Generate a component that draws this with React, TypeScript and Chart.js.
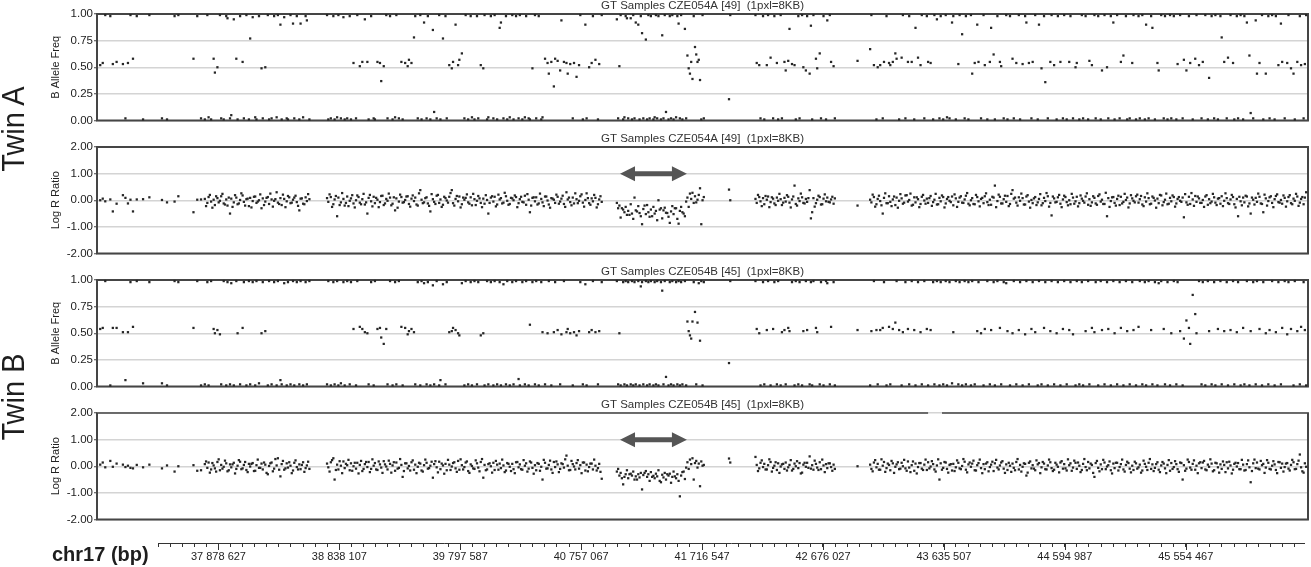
import React, { useEffect, useRef } from "react";
import { Chart, registerables } from "chart.js";

Chart.register(...registerables);

const FONT = '"Liberation Sans", Arial, Helvetica, sans-serif';

// ---------------- DATA ----------------
// SNP positions on chr17 (Mb), shared by both twins
const snpPosMb = [
  36.94,36.96,36.98,37.02,37.04,37.07,37.12,37.14,37.16,37.18,
  37.20,37.23,37.28,37.33,37.43,37.47,37.53,37.56,
  37.68,37.71,37.74,37.77,37.79,37.80,37.82,37.84,37.85,37.87,
  37.89,37.90,37.92,37.94,37.95,37.97,37.98,38.00,38.02,38.03,
  38.05,38.07,38.08,38.10,38.12,38.13,38.15,38.17,38.18,38.20,
  38.22,38.23,38.25,38.27,38.28,38.30,38.32,38.34,38.35,38.37,
  38.38,38.40,38.42,38.43,38.45,38.47,38.48,38.50,38.52,38.53,
  38.55,38.57,38.58,38.60,
  38.74,38.75,38.77,38.79,38.80,38.82,38.83,38.85,38.87,38.88,
  38.90,38.92,38.93,38.95,38.97,38.98,39.00,39.02,39.04,39.06,
  39.07,39.09,39.11,39.12,39.14,39.16,39.17,39.19,39.21,39.22,
  39.24,39.26,39.28,39.29,39.31,39.33,39.34,39.36,39.38,39.39,
  39.41,39.43,39.44,39.46,39.48,39.49,39.51,39.53,39.54,39.56,
  39.58,39.59,39.61,39.63,39.64,39.66,39.68,39.69,39.71,39.73,
  39.74,39.76,39.78,39.79,39.81,39.83,39.84,39.86,39.88,39.89,
  39.91,39.93,39.94,39.96,39.98,39.99,40.01,40.02,40.04,40.06,
  40.07,40.09,40.11,40.12,40.14,40.16,40.17,40.19,40.21,40.22,
  40.24,40.26,40.27,40.29,40.31,40.32,40.34,40.35,40.37,40.39,
  40.40,40.42,40.44,40.45,40.47,40.49,40.50,40.52,40.54,40.55,
  40.57,40.59,40.60,40.62,40.64,40.65,40.67,40.69,40.70,40.72,
  40.74,40.75,40.77,40.79,40.80,40.82,40.84,40.85,40.87,40.89,
  40.90,40.92,
  41.04,41.05,41.06,41.07,41.09,41.10,41.11,41.12,41.13,41.15,
  41.16,41.17,41.18,41.19,41.21,41.22,41.23,41.24,41.25,41.27,
  41.28,41.29,41.30,41.31,41.33,41.34,41.35,41.36,41.37,41.39,
  41.40,41.41,41.42,41.43,41.45,41.46,41.47,41.48,41.49,41.51,
  41.52,41.53,41.54,41.55,41.56,41.58,41.59,41.60,41.61,41.62,
  41.63,41.64,41.65,41.66,41.67,41.68,41.69,41.70,41.71,41.72,
  41.73,
  41.93,41.94,
  42.14,42.15,42.17,42.18,42.20,42.21,42.23,42.24,42.26,42.28,
  42.29,42.31,42.32,42.34,42.35,42.37,42.38,42.40,42.41,42.43,
  42.45,42.46,42.48,42.49,42.51,42.52,42.54,42.55,42.57,42.58,
  42.59,42.60,42.62,42.63,42.65,42.66,42.68,42.70,42.71,42.73,
  42.74,42.76,42.77,
  42.95,
  43.05,43.06,43.08,43.10,43.11,43.13,43.15,43.16,43.18,43.20,
  43.21,43.23,43.25,43.26,43.28,43.30,43.31,43.33,43.35,43.36,
  43.38,43.40,43.41,43.43,43.45,43.46,43.48,43.50,43.51,43.53,
  43.55,43.56,43.58,43.60,43.61,43.63,43.65,43.66,43.68,43.70,
  43.71,43.73,43.75,43.76,43.78,43.80,43.81,43.83,43.85,43.86,
  43.88,43.90,43.91,43.93,43.95,43.96,43.98,44.00,44.01,44.03,
  44.04,44.06,44.08,44.09,44.11,44.13,44.14,44.16,44.18,44.19,
  44.21,44.23,44.24,44.26,44.28,44.29,44.31,44.33,44.34,44.36,
  44.38,44.39,44.41,44.43,44.44,44.46,44.48,44.49,44.51,44.53,
  44.54,44.56,44.58,44.59,44.61,44.63,44.64,44.66,44.68,44.69,
  44.71,44.73,44.74,44.76,44.78,44.79,44.81,44.83,44.84,44.86,
  44.88,44.89,44.91,44.93,44.94,44.96,44.98,44.99,45.01,45.03,
  45.04,45.06,45.08,45.09,45.11,45.13,45.14,45.16,45.18,45.19,
  45.21,45.23,45.24,45.26,45.28,45.29,45.31,45.33,45.34,45.36,
  45.38,45.39,45.41,45.43,45.44,45.46,45.48,45.49,45.51,45.53,
  45.54,45.56,45.58,45.59,45.61,45.63,45.64,45.66,45.68,45.69,
  45.71,45.73,45.74,45.76,45.78,45.79,45.81,45.83,45.84,45.86,
  45.88,45.89,45.91,45.93,45.94,45.96,45.97,45.99,46.01,46.02,
  46.04,46.06,46.07,46.09,46.11,46.12,46.14,46.16,46.17,46.19,
  46.21,46.22,46.24,46.26,46.27,46.29,46.31,46.32,46.34,46.36,
  46.37,46.39,46.41,46.42,46.44,46.46,46.47,46.49,46.50,46.51,
];

// Twin A - B Allele Frequency (per SNP)
const bafTwinA = [
  .52,.54,.99,.98,.53,.55,.53,.02,.54,.99,
  .58,.98,.01,.99,.02,.01,.98,.99,
  .58,.98,.02,.01,.99,.03,.01,.58,.45,.50,
  .99,.02,.01,.98,.96,.02,.05,.95,.58,.01,
  .98,.55,.02,.99,.01,.77,.97,.03,.01,.98,
  .49,.02,.50,.99,.01,.02,.98,.03,.99,.90,
  .01,.97,.02,.01,.99,.91,.02,.98,.01,.91,
  .03,.98,.94,.01,
  .99,.01,.02,.98,.01,.03,.99,.02,.97,.01,
  .02,.98,.01,.54,.02,.99,.51,.55,.95,.55,
  .01,.98,.02,.01,.55,.54,.37,.51,.99,.02,
  .98,.01,.03,.99,.02,.55,.01,.54,.51,.57,
  .54,.78,.98,.02,.99,.01,.92,.02,.98,.01,
  .85,.08,.02,.99,.01,.77,.98,.02,.52,.49,
  .55,.90,.52,.57,.63,.02,.99,.01,.98,.03,
  .01,.98,.02,.52,.49,.99,.01,.03,.98,.02,
  .99,.01,.87,.92,.02,.98,.01,.03,.99,.01,
  .98,.02,.99,.01,.03,.98,.02,.01,.49,.99,
  .02,.98,.01,.03,.58,.54,.44,.55,.32,.58,
  .56,.47,.94,.55,.54,.44,.53,.02,.54,.41,
  .52,.99,.01,.90,.02,.50,.54,.98,.57,.01,
  .53,.99,
  .95,.02,.51,.99,.01,.03,.98,.96,.02,.96,
  .01,.99,.02,.92,.90,.01,.98,.82,.02,.76,
  .01,.99,.02,.98,.01,.03,.99,.02,.98,.01,
  .80,.02,.99,.08,.01,.98,.02,.99,.01,.03,
  .98,.91,.02,.99,.01,.86,.02,.61,.49,.44,
  .55,.39,.98,.69,.62,.55,.57,.38,.01,.99,
  .02,
  .20,.99,
  .99,.54,.52,.02,.98,.01,.52,.99,.59,.02,
  .98,.54,.01,.99,.02,.55,.47,.56,.86,.53,
  .52,.01,.98,.02,.99,.50,.47,.98,.44,.89,
  .01,.99,.58,.49,.63,.02,.98,.01,.94,.99,
  .55,.51,.02,
  .56,
  .67,.99,.52,.01,.50,.52,.02,.55,.98,.54,
  .52,.55,.63,.58,.01,.59,.99,.02,.55,.98,
  .55,.01,.87,.59,.52,.99,.02,.98,.55,.54,
  .01,.99,.95,.02,.98,.01,.99,.03,.02,.92,
  .98,.01,.53,.99,.81,.02,.98,.01,.99,.44,
  .54,.90,.55,.02,.99,.52,.01,.55,.87,.62,
  .01,.98,.55,.51,.02,.99,.01,.98,.58,.02,
  .54,.99,.01,.53,.98,.92,.54,.02,.55,.99,
  .01,.90,.49,.98,.36,.02,.55,.99,.52,.01,
  .98,.55,.02,.99,.01,.55,.98,.02,.50,.54,
  .01,.99,.02,.98,.01,.56,.52,.99,.02,.98,
  .01,.47,.99,.50,.02,.98,.92,.01,.99,.02,
  .55,.61,.98,.01,.02,.54,.99,.01,.98,.02,
  .99,.01,.90,.02,.98,.87,.01,.54,.47,.99,
  .02,.98,.01,.99,.02,.98,.01,.53,.99,.02,
  .57,.47,.98,.54,.01,.58,.99,.52,.02,.55,
  .99,.01,.40,.98,.02,.99,.01,.98,.78,.55,
  .02,.59,.99,.54,.01,.98,.02,.99,.01,.98,
  .92,.61,.07,.02,.94,.44,.54,.99,.01,.44,
  .98,.02,.99,.01,.98,.52,.91,.55,.02,.54,
  .99,.49,.44,.01,.55,.98,.52,.02,.53,.99,
];

// Twin A - Log R Ratio (per SNP)
const lrrTwinA = [
  0,.06,-.04,.03,-.42,-.13,.19,.09,-.12,.02,
  -.42,.03,.04,.11,.01,-.08,-.05,.15,
  -.45,.02,.03,.05,-.10,.12,-.05,.02,-.18,.08,
  -.02,.15,-.12,.03,-.20,-.50,.06,-.08,.10,-.15,
  .01,.18,-.06,.04,-.22,.09,-.03,.14,-.10,0,
  -.30,.07,-.05,.12,-.14,.03,-.02,.30,-.09,.08,
  -.18,.05,-.04,.16,-.11,.02,.10,-.07,-.38,.06,
  -.13,.11,-.03,.04,
  .08,-.06,.12,-.15,.03,-.60,.10,-.08,.05,-.20,
  .14,-.02,.07,-.12,0,.18,-.09,.04,-.16,-.50,
  .09,-.04,.13,-.11,.02,-.07,.16,-.18,.05,-.02,
  .10,-.13,-.38,.07,-.05,.12,-.09,.01,.15,-.14,
  .06,-.03,.10,-.20,.38,.02,-.08,.11,-.12,-.42,
  .04,-.06,.17,-.10,.03,-.17,.08,-.01,.13,.38,
  -.11,.05,-.04,.14,-.15,.02,.09,-.08,.11,-.19,
  .04,-.02,.16,-.10,.06,-.13,.01,-.50,.10,-.05,
  .13,-.16,.03,.08,-.09,.15,-.02,-.14,.07,0,
  .12,-.11,.04,-.06,.17,-.17,.02,-.45,.09,-.04,
  .11,-.12,.05,-.08,.14,-.01,-.16,.08,.02,-.10,
  .13,-.05,.06,-.14,.30,.03,-.07,.10,-.12,.04,
  -.02,.15,-.09,.01,.26,-.11,.07,-.04,.09,-.15,
  .03,-.06,
  -.10,-.30,-.20,-.65,-.35,-.45,-.25,-.55,-.40,-.15,
  -.50,-.70,.10,-.38,-.22,-.48,-.60,-.90,-.33,-.52,
  -.18,-.45,-.62,-.35,-.25,-.50,-.40,-.75,0,-.30,
  -.68,-.38,-.28,-.47,-.62,-.85,-.42,-.22,-.52,-.30,
  -.70,-.88,-.40,-.25,-.45,-.60,-.05,.10,-.25,.25,
  .05,.28,-.10,.15,-.08,.02,.20,.45,-.90,0,
  .12,
  .40,0,
  .05,-.10,.12,-.04,.08,-.15,.02,.14,-.07,.06,
  -.12,.10,-.02,.04,-.18,.09,-.05,.13,-.09,.03,
  .55,-.14,.07,-.03,.11,-.10,.05,-.06,.38,-.68,
  -.45,.08,-.11,.02,.12,-.16,.06,-.04,.10,-.08,
  .03,-.13,.07,
  -.20,
  .02,-.08,.12,-.15,.05,-.03,-.50,.09,-.11,.15,
  -.06,.03,-.18,.10,-.02,.07,-.13,.18,-.05,.01,
  -.20,.11,-.08,.04,-.14,.13,-.01,.06,-.10,.16,
  -.07,.02,-.16,.09,-.04,.12,-.12,.05,-.02,.14,
  -.19,.07,-.06,.10,-.09,.03,.17,-.13,0,.08,
  -.15,.12,-.04,.05,-.11,.15,-.07,.02,-.17,.10,
  .55,-.03,.13,-.12,.04,-.06,.16,-.14,.38,.06,
  -.09,.11,-.02,.08,-.16,.14,-.05,.01,-.11,.12,
  -.08,.05,-.19,.09,-.03,.15,-.10,-.57,.07,-.06,
  .11,-.13,.03,.17,-.07,0,-.15,.10,-.04,.13,
  -.11,.06,-.02,.14,-.17,.04,-.08,.09,-.12,.16,
  -.05,.02,-.14,-.60,.08,-.03,.12,-.10,.05,-.18,
  .13,-.06,.01,.10,-.12,.07,-.02,.15,-.09,.04,
  -.16,.11,-.05,.08,-.13,.14,-.01,.06,-.11,.18,
  -.07,.02,-.15,.09,-.04,.12,-.12,.05,-.02,.10,
  -.64,-.08,.13,-.14,.03,.16,-.06,.07,-.10,.01,
  .14,-.17,.04,-.05,.11,-.09,.06,-.13,.15,-.02,
  .08,-.11,.03,.12,-.15,.05,-.60,-.04,.10,-.08,
  .14,-.12,-.50,.02,.09,-.06,.13,-.14,-.45,.07,
  -.03,.11,-.10,.04,.16,-.07,.01,-.13,.09,-.04,
  .12,-.11,.06,-.02,.14,-.09,.05,-.15,.10,.30,
];

// Twin B - B Allele Frequency (per SNP)
const bafTwinB = [
  .54,.55,.99,.01,.55,.55,.51,.06,.51,.98,
  .56,.99,.03,.98,.03,.01,.99,.98,
  .55,.99,.01,.02,.98,.01,.99,.54,.50,.53,
  .49,.02,.99,.01,.98,.02,.97,.01,.99,.50,
  .02,.55,.98,.01,.99,.02,.98,.01,.99,.03,
  .50,.98,.52,.01,.99,.02,.98,.01,.99,.06,
  .02,.97,.01,.98,.02,.99,.01,.98,.02,.99,
  .01,.98,.02,.99,
  .02,.99,.01,.98,.02,.99,.01,.03,.98,.01,
  .99,.02,.98,.54,.01,.99,.56,.54,.51,.50,
  .02,.98,.01,.99,.54,.55,.46,.40,.54,.02,
  .99,.01,.98,.02,.99,.56,.01,.55,.49,.52,
  .54,.51,.02,.98,.01,.99,.97,.02,.98,.01,
  .95,.02,.99,.01,.06,.96,.02,.98,.51,.52,
  .55,.53,.50,.48,.97,.01,.99,.02,.98,.01,
  .99,.02,.98,.48,.50,.01,.99,.02,.98,.01,
  .99,.02,.98,.01,.96,.02,.99,.01,.98,.02,
  .99,.07,.01,.98,.02,.99,.01,.58,.98,.02,
  .99,.01,.98,.51,.02,.50,.99,.01,.51,.98,
  .53,.02,.49,.99,.51,.54,.50,.01,.51,.48,
  .52,.98,.02,.96,.01,.51,.53,.99,.51,.02,
  .52,.98,
  .99,.02,.50,.01,.98,.02,.99,.01,.98,.02,
  .99,.01,.98,.02,.99,.01,.94,.98,.02,.99,
  .01,.98,.02,.99,.01,.98,.02,.99,.01,.98,
  .90,.02,.99,.09,.01,.98,.02,.99,.01,.98,
  .02,.99,.01,.98,.02,.99,.01,.61,.52,.48,
  .45,.61,.98,.70,.02,.60,.97,.43,.99,.01,
  .98,
  .22,.99,
  .99,.54,.50,.01,.98,.02,.53,.99,.01,.54,
  .98,.02,.99,.01,.51,.53,.02,.55,.52,.98,
  .01,.99,.02,.98,.01,.52,.99,.53,.02,.98,
  .01,.99,.55,.51,.02,.98,.01,.99,.97,.02,
  .56,.98,.01,
  .53,
  .01,.52,.99,.53,.02,.53,.55,.98,.01,.56,
  .02,.54,.60,.99,.53,.01,.51,.98,.54,.02,
  .99,.53,.01,.98,.51,.02,.99,.54,.01,.53,
  .98,.02,.99,.01,.98,.02,.99,.01,.98,.03,
  .51,.99,.02,.98,.01,.99,.02,.98,.01,.99,
  .02,.52,.98,.50,.01,.54,.99,.02,.53,.98,
  .01,.99,.55,.02,.98,.97,.52,.01,.50,.99,
  .02,.53,.98,.01,.49,.99,.02,.54,.98,.51,
  .01,.99,.02,.55,.98,.01,.52,.99,.02,.50,
  .98,.01,.54,.99,.02,.53,.98,.49,.01,.99,
  .02,.98,.01,.52,.99,.02,.55,.51,.98,.01,
  .99,.53,.02,.98,.54,.01,.99,.50,.02,.98,
  .55,.01,.99,.52,.02,.98,.53,.01,.56,.99,
  .02,.98,.01,.99,.53,.02,.98,.01,.97,.99,
  .54,.02,.98,.01,.50,.99,.02,.98,.52,.01,
  .45,.62,.55,.40,.86,.68,.50,.99,.02,.98,
  .01,.99,.52,.02,.98,.01,.54,.99,.02,.52,
  .98,.01,.53,.99,.02,.51,.98,.01,.55,.02,
  .99,.01,.52,.98,.02,.99,.54,.01,.98,.50,
  .02,.53,.99,.01,.51,.98,.02,.55,.99,.49,
  .98,.54,.01,.99,.52,.02,.56,.98,.53,.01,
];

// Twin B - Log R Ratio (per SNP)
const lrrTwinB = [
  .06,.14,-.04,.20,-.02,.10,.06,-.03,.02,-.06,
  -.08,.05,-.04,.06,-.08,.03,-.20,0,
  .04,-.17,-.15,.08,-.06,.14,-.12,.03,-.08,.16,
  -.15,.05,-.02,.11,-.19,.07,-.04,.13,-.10,.02,
  .17,-.08,.05,-.14,.09,-.01,.12,-.17,.04,-.06,
  .10,-.12,.06,-.30,.01,.14,-.09,.03,.30,-.38,
  .08,-.13,.11,-.05,.02,-.16,.13,-.03,.07,-.11,
  .15,-.07,.03,-.10,
  .10,-.04,.15,.30,-.50,.06,-.12,.02,.18,-.07,
  .04,-.15,.11,0,-.09,.13,.05,-.18,.08,-.03,
  .16,-.10,.02,.12,-.14,.07,-.05,.19,-.01,-.12,
  .09,.03,-.17,.14,-.06,.05,-.40,.11,-.08,.01,
  .15,-.13,.06,-.02,.10,-.16,.04,.13,-.09,.02,
  -.43,.08,-.04,.17,-.11,.03,.09,-.15,.06,-.01,
  .12,-.08,.20,-.13,.04,-.03,.14,-.18,.07,.01,
  -.10,.11,-.05,.16,-.43,.05,-.12,.08,0,.13,
  -.14,.06,.10,-.07,.03,-.16,.12,-.02,.09,-.11,
  .15,-.04,.07,-.13,.02,.11,-.09,.18,-.06,.04,
  -.15,.09,-.02,-.50,.13,-.08,.05,-.12,.16,-.03,
  .07,-.10,.11,-.05,.40,.02,-.14,.08,-.01,.12,
  -.09,.04,.14,-.16,.06,-.03,.10,-.12,.02,-.07,
  .09,-.47,
  -.20,-.10,-.35,-.25,-.68,-.40,-.30,-.15,-.45,-.28,
  -.35,-.20,-.50,-.38,-.30,-.42,-.25,-.87,-.33,-.18,
  -.40,-.30,-.55,-.22,-.36,-.45,-.28,-.38,-.15,-.60,
  -.32,-.42,-.25,-.50,-.35,-.28,-.62,-.40,-.20,-.45,
  -.30,-.55,-1.13,-.35,-.22,-.48,-.05,.15,-.10,.25,
  .08,.30,-.50,.12,.20,-.05,.10,-.75,.18,.02,
  .05,
  .29,.14,
  .35,.05,-.08,.13,-.03,.09,-.12,.04,.16,-.06,
  .02,-.14,.11,-.01,.07,-.10,.14,-.04,.05,-.16,
  .10,0,-.07,.12,-.24,.06,-.02,.13,.37,-.09,
  .04,-.13,.09,-.05,.15,-.11,.03,.08,-.07,.11,
  -.03,.06,-.10,
  0,
  .06,-.10,.14,-.04,.09,-.13,.02,.16,-.07,.05,
  -.15,.11,-.02,.07,-.11,.13,0,-.08,.18,-.05,
  .04,-.17,.10,-.03,.12,-.09,.06,-.14,.15,-.01,
  .08,-.12,.03,-.50,.11,-.06,.14,-.10,.05,-.16,
  .09,-.04,.13,-.08,.01,.17,-.13,.07,-.02,.10,
  -.15,.04,.12,-.07,.08,-.11,.15,-.03,.06,-.18,
  .11,-.05,.03,.14,-.09,.07,-.14,.02,.10,-.06,
  .16,-.12,.05,-.02,.09,-.35,.13,-.08,.04,-.15,
  .07,.12,-.04,.10,-.11,.03,.15,-.07,-.13,.06,
  -.02,.14,-.09,.08,-.16,.04,.11,-.05,.13,-.10,
  .02,-.14,.09,-.03,.16,-.08,.05,-.40,.12,-.06,
  .07,-.11,.14,-.01,.04,-.15,.10,-.07,.13,-.03,
  .08,-.12,.05,.17,-.09,.02,-.14,.11,-.04,.06,
  -.16,.09,-.02,.13,-.10,.07,-.06,.15,-.13,.03,
  .10,-.08,.05,-.17,.12,-.03,.08,-.11,.14,-.50,
  .04,-.09,.16,-.05,.09,-.13,.02,.11,-.07,.14,
  -.12,.06,-.02,.10,-.15,.13,-.04,.07,-.10,.05,
  .15,-.08,.03,-.13,.09,-.01,.12,-.11,.06,-.16,
  .08,-.04,-.60,.11,-.07,.14,-.12,.04,.09,-.05,
  .13,-.10,.02,.07,-.14,.16,-.06,.10,-.03,.12,
  -.09,.05,.15,-.11,.08,.44,-.04,-.24,.11,-.02,
];

// Copy-number-only probes (Mb): Log R Ratio only
const cnvPosMb = [
  37.78,37.81,37.83,37.86,37.88,37.91,37.93,37.96,37.99,38.01,
  38.04,38.06,38.09,38.11,38.14,38.16,38.19,38.21,38.24,38.26,
  38.29,38.31,38.33,38.36,38.39,38.41,38.44,38.46,38.49,38.51,
  38.54,38.56,38.59,
  38.76,38.78,38.81,38.84,38.86,38.89,
  38.91,38.94,38.96,38.99,39.01,39.03,39.05,
  39.08,39.10,39.13,39.15,39.18,39.20,
  39.23,39.25,39.27,39.30,39.32,39.35,39.37,
  39.40,39.42,39.45,39.47,39.50,39.52,39.55,39.57,
  39.60,39.62,39.65,39.67,39.70,39.72,
  39.75,39.77,39.80,39.82,39.85,39.87,
  39.90,39.92,39.95,39.97,40.00,40.03,40.05,
  40.08,40.10,40.13,40.15,40.18,40.20,
  40.23,40.25,40.28,40.30,40.33,40.36,40.38,
  40.41,40.43,40.46,40.48,40.51,40.53,
  40.56,40.58,40.61,40.63,40.66,40.68,40.71,
  40.73,40.76,40.78,40.81,40.83,40.86,40.88,
  40.91,
  41.08,41.14,41.20,41.26,41.32,41.38,41.44,41.50,41.57,
  42.16,42.19,42.22,42.25,42.27,42.30,42.33,42.36,42.39,42.42,
  42.44,42.47,42.50,42.53,42.56,42.61,42.64,42.67,42.69,42.72,
  42.75,
  43.07,43.09,43.12,43.14,43.17,43.19,
  43.22,43.24,43.27,43.29,43.32,43.34,
  43.37,43.39,43.42,43.44,43.47,43.49,43.52,
  43.54,43.57,43.59,43.62,43.64,43.67,43.69,
  43.72,43.74,43.77,43.79,43.82,43.84,
  43.87,43.89,43.92,43.94,43.97,43.99,44.02,
  44.05,44.07,44.10,44.12,44.15,44.17,
  44.20,44.22,44.25,44.27,44.30,44.32,44.35,
  44.37,44.40,44.42,44.45,44.47,44.50,44.52,
  44.55,44.57,44.60,44.62,44.65,44.67,
  44.70,44.72,44.75,44.77,44.80,44.82,44.85,
  44.87,44.90,44.92,44.95,44.97,45.00,45.02,
  45.05,45.07,45.10,45.12,45.15,45.17,
  45.20,45.22,45.25,45.27,45.30,45.32,45.35,
  45.37,45.40,45.42,45.45,45.47,45.50,45.52,
  45.55,45.57,45.60,45.62,45.65,45.67,
  45.70,45.72,45.75,45.77,45.80,45.82,45.85,
  45.87,45.90,45.92,45.95,45.98,46.00,
  46.03,46.05,46.08,46.10,46.13,46.15,46.18,
  46.20,46.23,46.25,46.28,46.30,46.33,46.35,
  46.38,46.40,46.43,46.45,46.48,
];

const cnvLrrTwinA = [
  -.22,.20,-.28,.15,-.08,.24,-.16,.10,-.25,.19,
  -.12,.26,-.20,.06,-.27,.13,-.05,.22,-.18,.09,
  .25,-.24,.04,-.14,.21,-.26,.11,-.09,.17,-.21,
  .07,-.15,.23,
  .22,-.25,.16,-.18,.27,-.10,
  -.22,.19,-.27,.12,-.15,.24,-.08,
  .20,-.23,.09,-.26,.17,-.12,
  .25,-.19,.11,-.28,.21,-.07,.14,
  -.24,.18,-.16,.26,-.11,.08,-.21,.23,
  -.14,.20,-.25,.13,-.09,.27,
  -.20,.16,-.27,.10,.22,-.13,
  .24,-.18,.07,-.26,.19,-.10,.15,
  -.23,.21,-.12,.28,-.17,.09,
  .18,-.26,.13,-.08,.23,-.20,.11,
  -.16,.25,-.22,.14,-.28,.06,
  .21,-.13,.17,-.25,.10,-.19,.26,
  -.11,.22,-.24,.08,-.17,.20,-.27,
  .15,
  -.30,-.55,-.42,-.20,-.60,-.35,-.48,-.30,-.50,
  .20,-.22,.16,-.26,.11,-.18,.24,-.09,.19,-.27,
  .14,-.20,.25,-.12,.08,-.24,.17,-.15,.22,-.06,
  .13,
  .21,-.24,.17,-.19,.26,-.11,
  -.22,.14,-.28,.23,-.09,.19,
  .25,-.17,.11,-.26,.20,-.13,.08,
  -.21,.24,-.15,.18,-.27,.12,-.07,
  .22,-.25,.15,-.10,.27,-.19,
  -.14,.20,-.23,.09,.26,-.18,.13,
  -.26,.21,-.12,.17,-.22,.24,
  .10,-.20,.25,-.16,.19,-.28,.07,
  -.18,.23,-.11,.27,-.24,.14,-.08,
  .20,-.26,.12,-.19,.24,-.13,
  -.23,.18,-.09,.26,-.21,.15,-.17,
  .22,-.14,.28,-.25,.11,-.20,.17,
  -.12,.24,-.27,.19,-.08,.21,
  .16,-.22,.26,-.15,.09,-.28,.20,
  -.19,.25,-.13,.18,-.24,.12,-.06,
  .23,-.17,.27,-.21,.14,-.10,
  -.25,.19,-.11,.24,-.18,.08,-.22,
  .26,-.14,.20,-.27,.13,-.19,
  .17,-.23,.10,-.16,.25,-.12,.21,
  -.20,.15,-.26,.22,-.09,.18,-.24,
  .19,-.15,.24,-.21,.12,
];

const cnvLrrTwinB = [
  .18,-.24,.12,-.20,.26,-.09,.21,-.15,.07,-.27,
  .23,-.11,.16,-.22,.09,-.18,.25,-.06,.14,-.25,
  .11,-.19,.27,-.13,.20,-.08,.15,-.26,.22,-.12,
  .05,-.21,.17,
  -.20,.23,-.14,.19,-.26,.09,
  .24,-.17,.13,-.27,.20,-.10,.16,
  -.22,.26,-.12,.18,-.25,.07,
  .21,-.24,.15,-.09,.27,-.18,.11,
  -.16,.22,-.26,.13,-.20,.25,-.07,.17,
  .19,-.23,.10,-.28,.24,-.14,
  .15,-.21,.26,-.12,.18,-.25,
  -.08,.22,-.19,.27,-.15,.11,-.24,
  .20,-.13,.25,-.22,.09,-.18,
  -.26,.16,-.11,.23,-.20,.14,-.28,
  .12,-.17,.24,-.09,.21,-.25,
  .18,-.22,.08,.26,-.15,.20,-.12,
  .23,-.26,.14,-.19,.10,.25,-.16,
  -.21,
  -.45,-.30,-.50,-.25,-.40,-.55,-.30,-.38,-.20,
  -.18,.22,-.12,.26,-.20,.15,-.25,.09,-.16,.23,
  -.10,.19,-.27,.13,-.06,.21,-.14,.25,-.22,.11,
  -.17,
  -.19,.23,-.13,.26,-.21,.10,
  .20,-.25,.15,-.09,.24,-.17,
  -.22,.18,-.27,.12,-.14,.25,-.08,
  .19,-.20,.26,-.13,.16,-.24,.08,
  -.18,.22,-.11,.27,-.23,.14,
  .21,-.16,.25,-.26,.10,-.19,.17,
  .24,-.12,.19,-.25,.13,-.21,
  -.15,.27,-.20,.11,-.24,.18,-.09,
  .22,-.26,.16,-.12,.25,-.18,.13,
  -.23,.19,-.08,.26,-.17,.21,
  .14,-.22,.27,-.15,.10,-.25,.20,
  -.19,.24,-.11,.18,-.27,.13,-.16,
  .25,-.20,.12,-.23,.17,-.09,
  -.24,.21,-.14,.27,-.18,.08,-.22,
  .16,-.26,.23,-.10,.19,-.21,.12,
  -.17,.25,-.13,.22,-.26,.15,
  .20,-.15,.26,-.19,.11,-.24,.18,
  -.22,.17,-.27,.13,-.11,.24,
  -.14,.22,-.18,.25,-.09,.20,-.25,
  .23,-.12,.19,-.26,.15,-.20,.10,
  -.16,.24,-.10,.21,-.19,
];

// Axis ticks (genomic position, Mb) and their labels (bp)
const xMajorValuesMb = [37.878627, 38.838107, 39.797587, 40.757067, 41.716547, 42.676027, 43.635507, 44.594987, 45.554467];
const xMajorLabels = ["37 878 627", "38 838 107", "39 797 587", "40 757 067", "41 716 547", "42 676 027", "43 635 507", "44 594 987", "45 554 467"];
const bafTicks = [0, 0.25, 0.5, 0.75, 1];
const lrrTicks = [-2, -1, 0, 1, 2];

const panelTitles = [
  "GT Samples CZE054A [49]  (1pxl=8KB)",
  "GT Samples CZE054A [49]  (1pxl=8KB)",
  "GT Samples CZE054B [45]  (1pxl=8KB)",
  "GT Samples CZE054B [45]  (1pxl=8KB)",
];
const yTitles = { baf: "B Allele Freq", lrr: "Log R Ratio" };
const deletionArrowMb = [41.065, 41.596];
const deletionArrowLevel = 1.0;

// view window (Mb)
const X_MIN = 36.9144;
const X_MAX = 46.5249;
const AXIS_MIN = 37.398887;
const AXIS_MAX = 46.4931;

// ---------------- COMPONENTS ----------------
type PanelProps = {
  top: number;
  values: number[];
  extra?: number[];
  kind: "baf" | "lrr";
  title: string;
  arrow?: boolean;
  topGap?: number[];
};

function Panel({ top, values, extra, kind, title, arrow, topGap }: PanelProps) {
  const ref = useRef<HTMLCanvasElement>(null);
  useEffect(() => {
    const pts: { x: number; y: number }[] = [];
    const n = Math.min(snpPosMb.length, values.length);
    for (let i = 0; i < n; i++) pts.push({ x: snpPosMb[i], y: values[i] });
    if (extra) {
      const m = Math.min(cnvPosMb.length, extra.length);
      for (let i = 0; i < m; i++) pts.push({ x: cnvPosMb[i], y: extra[i] });
    }
    const isBaf = kind === "baf";
    const tickVals = isBaf ? bafTicks : lrrTicks;

    const decor = {
      id: "decor",
      beforeDatasetsDraw(chart: any) {
        const { ctx, chartArea: a, scales } = chart;
        ctx.save();
        ctx.strokeStyle = "#454545";
        ctx.lineWidth = 2;
        ctx.beginPath();
        ctx.moveTo(a.left, a.top);
        ctx.lineTo(a.left, a.bottom);
        ctx.lineTo(a.right, a.bottom);
        ctx.lineTo(a.right, a.top);
        ctx.stroke();
        ctx.beginPath();
        if (topGap) {
          const g0 = scales.x.getPixelForValue(topGap[0]);
          const g1 = scales.x.getPixelForValue(topGap[1]);
          ctx.lineWidth = 1.5;
          ctx.moveTo(a.left - 1, a.top);
          ctx.lineTo(g0, a.top);
          ctx.moveTo(g1, a.top);
          ctx.lineTo(a.right + 1, a.top);
        } else {
          ctx.moveTo(a.left - 1, a.top);
          ctx.lineTo(a.right + 1, a.top);
        }
        ctx.stroke();
        ctx.restore();
      },
      afterDatasetsDraw(chart: any) {
        if (!arrow) return;
        const { ctx, scales } = chart;
        const x0 = scales.x.getPixelForValue(deletionArrowMb[0]);
        const x1 = scales.x.getPixelForValue(deletionArrowMb[1]);
        const y = scales.y.getPixelForValue(deletionArrowLevel);
        const head = 15, hh = 7.5, sh = 2.5;
        ctx.save();
        ctx.fillStyle = "#555555";
        ctx.beginPath();
        ctx.moveTo(x0, y);
        ctx.lineTo(x0 + head, y - hh);
        ctx.lineTo(x0 + head, y - sh);
        ctx.lineTo(x1 - head, y - sh);
        ctx.lineTo(x1 - head, y - hh);
        ctx.lineTo(x1, y);
        ctx.lineTo(x1 - head, y + hh);
        ctx.lineTo(x1 - head, y + sh);
        ctx.lineTo(x0 + head, y + sh);
        ctx.lineTo(x0 + head, y + hh);
        ctx.closePath();
        ctx.fill();
        ctx.restore();
      },
      afterDraw(chart: any) {
        const { ctx, chartArea: a } = chart;
        ctx.save();
        ctx.font = `11.5px ${FONT}`;
        ctx.fillStyle = "#333333";
        ctx.textAlign = "center";
        ctx.textBaseline = "middle";
        ctx.fillText(title, (a.left + a.right) / 2, a.top - 8);
        ctx.restore();
      },
    };

    const chart = new Chart(ref.current as HTMLCanvasElement, {
      type: "scatter",
      data: {
        datasets: [
          {
            data: pts,
            pointStyle: "rect",
            pointRadius: 1.6,
            pointHoverRadius: 1.6,
            backgroundColor: "#262626",
            borderWidth: 0,
            clip: false,
          } as any,
        ],
      },
      options: {
        responsive: false,
        animation: false,
        events: [],
        layout: { padding: { top: 14, bottom: 12.5, left: 0, right: 3 } },
        plugins: { legend: { display: false }, tooltip: { enabled: false }, title: { display: false } },
        scales: {
          x: { type: "linear", display: false, min: X_MIN, max: X_MAX },
          y: {
            type: "linear",
            min: isBaf ? 0 : -2,
            max: isBaf ? 1 : 2,
            afterFit: (s: any) => {
              s.width = 97;
            },
            afterBuildTicks: (s: any) => {
              s.ticks = tickVals.map((v) => ({ value: v }));
            },
            ticks: {
              callback: (v: any) => Number(v).toFixed(2),
              color: "#222222",
              font: { family: FONT, size: 11.5 },
              padding: 1,
            },
            grid: { color: "#d4d4d4", lineWidth: 1.5, drawTicks: true, tickLength: 3, tickColor: "#444444", tickWidth: 1 },
            border: { display: false },
            title: {
              display: true,
              text: isBaf ? yTitles.baf : yTitles.lrr,
              color: "#222222",
              font: { family: FONT, size: 11 },
              padding: { top: 49, bottom: 0 },
            },
          } as any,
        },
      },
      plugins: [decor],
    });
    return () => chart.destroy();
  }, []);
  return (
    <canvas
      ref={ref}
      width={1311}
      height={133}
      style={{ position: "absolute", left: 0, top, width: 1311, height: 133, display: "block" }}
    />
  );
}

function BottomAxis() {
  const ref = useRef<HTMLCanvasElement>(null);
  useEffect(() => {
    const step = (xMajorValuesMb[1] - xMajorValuesMb[0]) / 10;
    const minorTicks: number[] = [];
    for (let k = -5; k <= 89; k++) minorTicks.push(xMajorValuesMb[0] + k * step);
    const labelFor = (v: number) => {
      for (let i = 0; i < xMajorValuesMb.length; i++) {
        if (Math.abs(v - xMajorValuesMb[i]) < 1e-6) return xMajorLabels[i];
      }
      return "";
    };
    const majorMarks = {
      id: "majorMarks",
      afterDraw(chart: any) {
        const { ctx, scales } = chart;
        const s = scales.x;
        ctx.save();
        ctx.strokeStyle = "#333333";
        ctx.lineWidth = 1;
        for (const v of xMajorValuesMb) {
          const px = Math.round(s.getPixelForValue(v)) + 0.5;
          ctx.beginPath();
          ctx.moveTo(px, s.top);
          ctx.lineTo(px, s.top + 7);
          ctx.stroke();
        }
        ctx.restore();
      },
    };
    const chart = new Chart(ref.current as HTMLCanvasElement, {
      type: "scatter",
      data: { datasets: [{ data: [] }] },
      options: {
        responsive: false,
        animation: false,
        events: [],
        layout: { padding: { left: 158, right: 7, top: 0, bottom: 0 } },
        plugins: { legend: { display: false }, tooltip: { enabled: false } },
        scales: {
          y: { display: false, min: 0, max: 1 },
          x: {
            type: "linear",
            position: "bottom",
            min: AXIS_MIN,
            max: AXIS_MAX,
            afterBuildTicks: (s: any) => {
              s.ticks = minorTicks.map((v) => ({ value: v }));
            },
            afterFit: (s: any) => {
              s.height = 24;
            },
            ticks: {
              autoSkip: false,
              maxRotation: 0,
              minRotation: 0,
              padding: 3,
              color: "#222222",
              font: { family: FONT, size: 11 },
              callback: (v: any) => labelFor(Number(v)),
            },
            grid: { drawOnChartArea: false, drawTicks: true, tickLength: 4, tickColor: "#333333", tickWidth: 1 },
            border: { display: true, color: "#333333", width: 1 },
          } as any,
        },
      },
      plugins: [majorMarks],
    });
    return () => chart.destroy();
  }, []);
  return (
    <canvas
      ref={ref}
      width={1311}
      height={47}
      style={{ position: "absolute", left: 0, top: 520, width: 1311, height: 47, display: "block" }}
    />
  );
}

const twinStyle: React.CSSProperties = {
  position: "absolute",
  left: 14,
  transform: "translate(-50%, -50%) rotate(-90deg) scale(1, 1.1)",
  fontFamily: FONT,
  fontSize: 29,
  lineHeight: "29px",
  color: "#1e1e1e",
  whiteSpace: "nowrap",
};

export default function App() {
  return (
    <div
      style={{
        position: "absolute",
        left: 0,
        top: 0,
        width: 1311,
        height: 567,
        background: "#ffffff",
        overflow: "hidden",
      }}
    >
      <Panel top={0} values={bafTwinA} kind="baf" title={panelTitles[0]} />
      <Panel top={133} values={lrrTwinA} extra={cnvLrrTwinA} kind="lrr" title={panelTitles[1]} arrow />
      <Panel top={266} values={bafTwinB} kind="baf" title={panelTitles[2]} />
      <Panel top={399} values={lrrTwinB} extra={cnvLrrTwinB} kind="lrr" title={panelTitles[3]} arrow topGap={[43.51, 43.62]} />
      <BottomAxis />
      <div style={{ ...twinStyle, top: 129 }}>Twin A</div>
      <div style={{ ...twinStyle, top: 397 }}>Twin B</div>
      <div
        style={{
          position: "absolute",
          left: 52,
          top: 544,
          fontFamily: FONT,
          fontWeight: "bold",
          fontSize: 20,
          lineHeight: "20px",
          color: "#1e1e1e",
          whiteSpace: "nowrap",
        }}
      >
        chr17 (bp)
      </div>
    </div>
  );
}
